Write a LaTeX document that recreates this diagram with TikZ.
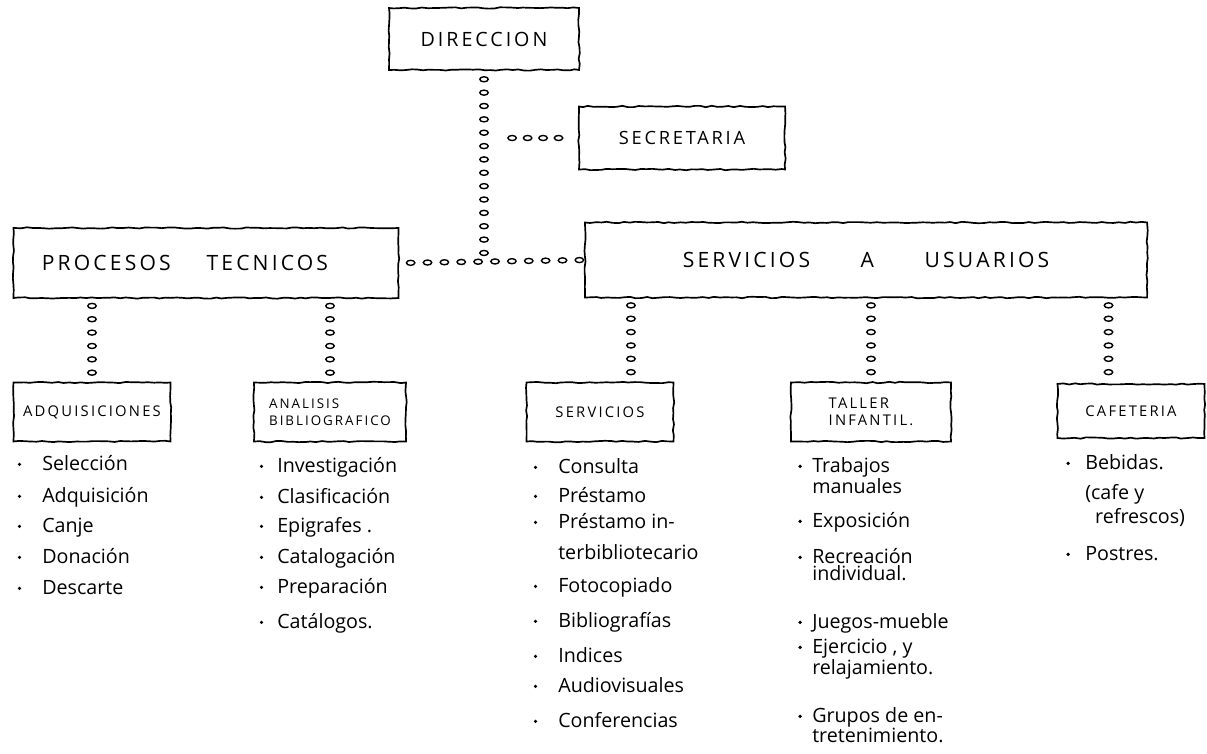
\documentclass[tikz,border=0pt]{standalone}
\usepackage{fontspec}
\setmainfont{Open Sans}
\newfontfamily\capsfont[LetterSpace=15]{Open Sans}
\usetikzlibrary{decorations.pathmorphing,decorations.markings,positioning}
\newcommand{\stackl}[2]{\vtop{\hbox{#1}\hbox{#2}}}

\begin{document}
\begin{tikzpicture}[x=0.025cm, y=-0.025cm,
  orgbox/.style={draw, line width=1.2pt, decorate,
    decoration={random steps, segment length=4pt, amplitude=0.5pt},
    inner sep=0pt, align=center},
  head/.style={font=\capsfont\fontsize{#1}{12}\selectfont},
  ovals/.style 2 args={decorate, decoration={markings,
    mark=between positions #1 and -3pt step #2 with
    {\pgftransformresetnontranslations \draw[line width=1pt] (0,0) ellipse (3pt and 1.8pt);}}},
  item/.style={anchor=base west, inner sep=0pt,
    font=\fontsize{14}{#1}\selectfont},
  item/.default=22pt]
\pgfmathsetseed{7}
\useasboundingbox (0,0) rectangle (1207,754);

% top boxes
\node[orgbox, head=14, minimum width=4.75cm, minimum height=1.55cm] (dir) at (484,39) {DIRECCION};
\node[orgbox, head=13, minimum width=5.15cm, minimum height=1.575cm] (sec) at (682,138) {SECRETARIA};
\node[orgbox, head=15, minimum width=9.625cm, minimum height=1.75cm] (pt) at (206,263) {PROCESOS\hspace{1.7em}TECNICOS\hspace*{30pt}};
\node[orgbox, head=15, minimum width=14.05cm, minimum height=1.875cm] (su) at (866,260) {SERVICIOS\hspace{2.4em}A\hspace{2.4em}USUARIOS};

% second level
\node[orgbox, head=10.5, minimum width=3.925cm, minimum height=1.475cm] (adq) at (92,412) {ADQUISICIONES};
\node[orgbox, head=9.5, align=left, minimum width=3.8cm, minimum height=1.475cm] (ana) at (330,412) {ANALISIS\\BIBLIOGRAFICO};
\node[orgbox, head=10.5, minimum width=3.675cm, minimum height=1.475cm] (ser) at (600,412) {SERVICIOS};
\node[orgbox, head=10.5, align=left, minimum width=4cm, minimum height=1.475cm] (tal) at (871,412) {TALLER\\INFANTIL.};
\node[orgbox, head=10.5, minimum width=3.675cm, minimum height=1.35cm] (caf) at (1131,411) {CAFETERIA};

% oval chains
\coordinate (jt) at (dir.south |- pt.east);
\coordinate (js) at (dir.south |- sec.west);
\draw[ovals={6pt}{9.5pt}] (dir.south) -- (jt);
\draw[ovals={20pt}{11pt}] (js) -- (sec.west);
\draw[ovals={8pt}{12pt}] (pt.east) -- (su.west);

\coordinate (serc) at ([xshift=22pt]ser.north);
\coordinate (cafc) at ([xshift=-16pt]caf.north);
\draw[ovals={5pt}{9.5pt}] (adq.north |- pt.south) -- (adq.north);
\draw[ovals={5pt}{9.5pt}] (ana.north |- pt.south) -- (ana.north);
\draw[ovals={5pt}{9.5pt}] (serc |- su.south) -- (serc);
\draw[ovals={5pt}{9.5pt}] (tal.north |- su.south) -- (tal.north);
\draw[ovals={5pt}{9.5pt}] (cafc |- su.south) -- (cafc);

% lists
\foreach \y/\t [count=\i] in {470/Selección, 502/Adquisición, 532/Canje, 563/Donación, 594/Descarte}
{
  \node[item] (adq\i) at (42,\y) {\t};
  \fill ([xshift=-16pt,yshift=4pt]adq\i.base west) circle (1.3pt);
}
\foreach \y/\t [count=\i] in {472/Investigación, 503/Clasificación, 532/Epigrafes ., 563/Catalogación, 593/Preparación, 628/Catálogos.}
{
  \node[item] (ana\i) at (277,\y) {\t};
  \fill ([xshift=-11pt,yshift=4pt]ana\i.base west) circle (1.3pt);
}
\foreach \y/\t [count=\i] in {473/Consulta, 502/Préstamo, 528/{\stackl{Préstamo in-}{terbibliotecario}}, 592/Fotocopiado, 627/Bibliografías, 662/Indices, 692/Audiovisuales, 727/Conferencias}
{
  \node[item=22.5pt] (ser\i) at (558,\y) {\t};
  \fill ([xshift=-16pt,yshift=4pt]ser\i.base west) circle (1.3pt);
}
\foreach \y/\t [count=\i] in {472/{\stackl{Trabajos}{manuales}}, 527/Exposición, 563/{\stackl{Recreación}{individual.}}, 628/Juegos-mueble, 653/{\stackl{Ejercicio , y}{relajamiento.}}, 722/{\stackl{Grupos de en-}{tretenimiento.}}}
{
  \node[item=12.5pt] (tal\i) at (812,\y) {\t};
  \fill ([xshift=-8.5pt,yshift=4pt]tal\i.base west) circle (1.3pt);
}
\foreach \y/\t [count=\i] in {469/{\vtop{\hbox{Bebidas.}\vskip5pt\hbox{(cafe y}\hbox{\hspace*{7pt}refrescos)}}}, 560/Postres.}
{
  \node[item=17pt] (caf\i) at (1085,\y) {\t};
  \fill ([xshift=-12pt,yshift=4pt]caf\i.base west) circle (1.3pt);
}

\end{tikzpicture}
\end{document}
